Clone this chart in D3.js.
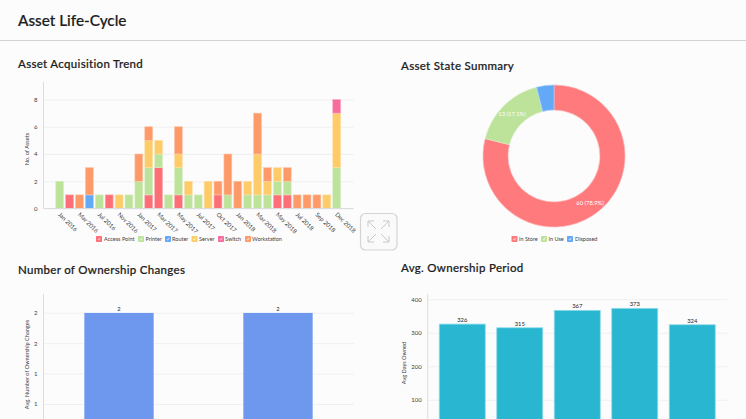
<!DOCTYPE html>
<html><head><meta charset="utf-8">
<script src="https://cdn.jsdelivr.net/npm/d3@7"></script>
<style>
html,body{margin:0;padding:0;background:#fcfcfc;overflow:hidden}
svg{display:block}
text{font-family:Lato,"Open Sans",sans-serif}
</style></head><body><svg id="c" width="746" height="419"></svg>
<script>
const months=["Jan 2016","Feb 2016","Mar 2016","Jun 2016","Jul 2016","Sep 2016","Nov 2016","Dec 2016","Jan 2017","Feb 2017","Mar 2017","Apr 2017","May 2017","Jun 2017","Jul 2017","Sep 2017","Oct 2017","Dec 2017","Jan 2018","Feb 2018","Mar 2018","Apr 2018","May 2018","Jun 2018","Jul 2018","Aug 2018","Sep 2018","Oct 2018","Dec 2018"];
const assetTypes=["Access Point","Printer","Router","Server","Switch","Workstation"];
const typeColors=["#fd6f76","#bde29a","#62a9f8","#fdcb68","#f76c9c","#fd9a68"];
const accessPoint=[0,1,0,0,0,1,0,0,0,1,3,0,1,0,0,0,1,0,0,0,0,0,1,1,0,0,0,0,0];
const printer    =[2,0,0,0,1,0,0,1,2,2,1,1,2,1,1,0,0,1,0,1,1,1,1,1,0,0,0,0,3];
const router     =[0,0,0,1,0,0,0,0,0,0,0,0,0,0,0,0,0,0,0,0,0,0,0,0,0,0,0,0,0];
const server     =[0,0,0,0,0,0,1,0,0,2,1,0,1,1,0,2,0,0,0,1,3,1,1,0,0,0,0,1,4];
const switches   =[0,0,0,0,0,0,0,0,0,0,0,0,0,0,0,0,0,0,0,0,0,0,0,0,0,0,0,0,1];
const workstation=[0,0,1,2,0,0,0,0,2,1,0,0,2,0,0,0,1,3,2,0,3,1,0,1,1,1,1,0,0];
const acqSeries=[accessPoint,printer,router,server,switches,workstation];
const acqTicks=[0,2,4,6,8];
const stateLabels=["In Store","In Use","Disposed"];
const stateValues=[60,13,3];
const stateColors=["#fe7a7c","#bde29a","#62a9f8"];
const changeCats=["A","B"];
const changeValues=[2,2];
const changeTicks=[0.5,1,1.5,2];
const periodCats=["A","B","C","D","E"];
const periodValues=[326,315,367,373,324];
const periodTicks=[100,200,300,400];

const svg=d3.select("#c");
const INK="#1c1c1c",TICK="#3c3c3c",GRID="#f0f0f0",AXIS="#dcdcdc";
function title(t,x,y,s,ls){svg.append("text").attr("x",x).attr("y",y).attr("fill",INK).attr("stroke",INK).attr("stroke-width",.2).attr("font-size",s).attr("font-weight",500).attr("letter-spacing",ls).text(t);}
title("Asset Life-Cycle",18,26,15.3,0);
svg.append("line").attr("x1",0).attr("x2",746).attr("y1",40.5).attr("y2",40.5).attr("stroke","#d2d2d2");
title("Asset Acquisition Trend",18,68,11.5,.3);
title("Asset State Summary",401,70,11.5,.3);
title("Number of Ownership Changes",18,274,11.5,.3);
title("Avg. Ownership Period",401,272,11.5,.3);

function lighten(c){return d3.interpolateRgb(c,"#fff")(.45);}
function yAxis(y,ticks,x0,x1,top,fmt,label,lx,ly){
  const g=svg.append("g").attr("transform",`translate(${x0},0)`);
  const ax=d3.axisLeft(y).tickValues(ticks).tickSize(0).tickPadding(6).tickFormat(fmt);
  g.call(ax);
  g.select(".domain").remove();
  g.selectAll("text").attr("font-size",6).attr("fill",TICK);
  g.selectAll("g.tick").append("line").attr("x1",0).attr("x2",x1-x0).attr("stroke",GRID);
  svg.append("line").attr("x1",x0).attr("x2",x0).attr("y1",top).attr("y2",y(0)).attr("stroke",AXIS);
  svg.append("text").attr("transform",`translate(${lx},${ly}) rotate(-90)`).attr("text-anchor","middle").attr("font-size",5.6).attr("fill",TICK).text(label);
}
function legend(items,colors,xs,texts,y){
  items.forEach((n,i)=>{
    const g=svg.append("g").attr("transform",`translate(${xs[i]},${y})`);
    g.append("rect").attr("x",0).attr("y",-3).attr("width",6).attr("height",6).attr("rx",.8).attr("fill",colors[i]);
    g.append("path").attr("d","M1.9 .2L2.7 1.2L4.1 -1.1").attr("fill","none").attr("stroke","#fff").attr("stroke-width",.7);
    g.append("text").attr("x",texts[i]-xs[i]).attr("y",2).attr("font-size",5.5).attr("fill",TICK).text(n);
  });
}

// Acquisition trend
{
  const x=d3.scaleBand().domain(months).range([54.75,341.65]).paddingInner(.2).paddingOuter(.1);
  const y=d3.scaleLinear().domain([0,8]).range([208.5,99.5]);
  yAxis(y,acqTicks,43.5,353.5,82,d3.format("d"),"No. of Assets",29,149);
  const rows=months.map((m,i)=>{const r={m};assetTypes.forEach((t,j)=>r[t]=acqSeries[j][i]);return r;});
  const stack=d3.stack().keys(assetTypes)(rows);
  stack.forEach((s,j)=>{
    svg.append("g").selectAll("rect").data(s.filter(d=>d[1]>d[0])).join("rect")
      .attr("x",d=>x(d.data.m)).attr("width",x.bandwidth())
      .attr("y",d=>y(d[1])).attr("height",d=>y(d[0])-y(d[1]))
      .attr("fill",typeColors[j]).attr("stroke",lighten(typeColors[j])).attr("stroke-width",.6);
  });
  svg.append("line").attr("x1",43.5).attr("x2",353.5).attr("y1",208.5).attr("y2",208.5).attr("stroke",AXIS);
  const shown=months.filter((m,i)=>i%2===0);
  const labels=["Jan 2016","Mar 2016","Jul 2016","Nov 2016","Jan 2017","Mar 2017","May 2017","Jul 2017","Oct 2017","Jan 2018","Mar 2018","May 2018","Jul 2018","Sep 2018","Dec 2018"];
  const xg=svg.append("g").attr("transform","translate(0,208.5)")
    .call(d3.axisBottom(x).tickValues(shown).tickSize(0).tickFormat((d,i)=>labels[i]));
  xg.select(".domain").remove();
  xg.selectAll("text").attr("font-size",6).attr("fill",TICK).attr("text-anchor","start")
    .attr("transform","translate(1.5,3) rotate(45)").attr("dy",".3em").attr("y",3);
  legend(assetTypes,typeColors,[96,138,165,191.5,218,245],[104,145.5,172,199,225,252],239);
}
// Donut
{
  const pie=d3.pie().sort(null)(stateValues);
  const arc=d3.arc().innerRadius(46).outerRadius(71);
  const g=svg.append("g").attr("transform","translate(554,156)");
  g.selectAll("path").data(pie).join("path").attr("d",arc)
    .attr("fill",(d,i)=>stateColors[i]).attr("stroke",(d,i)=>lighten(stateColors[i])).attr("stroke-width",.7);
  const total=d3.sum(stateValues);
  g.selectAll("text").data(pie.slice(0,2)).join("text")
    .attr("transform",(d,i)=>{const [a,b]=i===0?[36,48.5]:[-42,-40];return `translate(${a},${b})`;})
    .attr("text-anchor","middle").attr("font-size",5.8).attr("fill","#fff")
    .text((d,i)=>`${stateValues[i]} (${d3.format(".1f")(stateValues[i]/total*100)}%)`);
  legend(stateLabels,stateColors,[511.5,541,567],[519,548.5,575],239);
}
// Ownership changes
{
  const x=d3.scaleBand().domain(changeCats).range([39.5,357.5]).paddingInner(.56).paddingOuter(.28);
  const y=d3.scaleLinear().domain([0,2]).range([434.5,312.7]);
  yAxis(y,changeTicks,43.5,354,294,d3.format(".0f"),"Avg. Number of Ownership Changes",29,364.5);
  svg.append("g").selectAll("rect").data(changeValues).join("rect")
    .attr("x",(d,i)=>x(changeCats[i])).attr("width",x.bandwidth())
    .attr("y",d=>y(d)).attr("height",d=>y(0)-y(d)).attr("fill","#6e97ee").attr("stroke","#fff").attr("stroke-width",.6);
  svg.append("g").selectAll("text").data(changeValues).join("text")
    .attr("x",(d,i)=>x(changeCats[i])+x.bandwidth()/2).attr("y",d=>y(d)-2)
    .attr("text-anchor","middle").attr("font-size",5.8).attr("fill","#222").text(d=>d);
}
// Ownership period
{
  const x=d3.scaleBand().domain(periodCats).range([433.5,721]).paddingInner(.2).paddingOuter(.1);
  const y=d3.scaleLinear().domain([0,400]).range([433.3,299.3]);
  yAxis(y,periodTicks,427.7,727.5,294,d3.format("d"),"Avg Days Owned",406,363);
  svg.append("g").selectAll("rect").data(periodValues).join("rect")
    .attr("x",(d,i)=>x(periodCats[i])).attr("width",x.bandwidth())
    .attr("y",d=>y(d)).attr("height",d=>y(0)-y(d)).attr("fill","#29b6d0").attr("stroke","#8fdcea").attr("stroke-width",.8);
  svg.append("g").selectAll("text").data(periodValues).join("text")
    .attr("x",(d,i)=>x(periodCats[i])+x.bandwidth()/2).attr("y",d=>y(d)-2)
    .attr("text-anchor","middle").attr("font-size",5.8).attr("fill","#222").text(d=>d);
}
// Expand button
{
  const g=svg.append("g").attr("transform","translate(360,213)");
  g.append("rect").attr("x",.5).attr("y",.5).attr("width",36.5).attr("height",36.5).attr("rx",5).attr("fill","#fafafa").attr("stroke","#d4d4d4").attr("stroke-width",1.2);
  g.append("path").attr("fill","none").attr("stroke","#c9c9c9").attr("stroke-width",1)
   .attr("d","M8 14V8H14M8 8L16 16M23 8H29V14M29 8L21 16M8 23V29H14M8 29L16 21M23 29H29V23M29 29L21 21");
}
</script></body></html>
